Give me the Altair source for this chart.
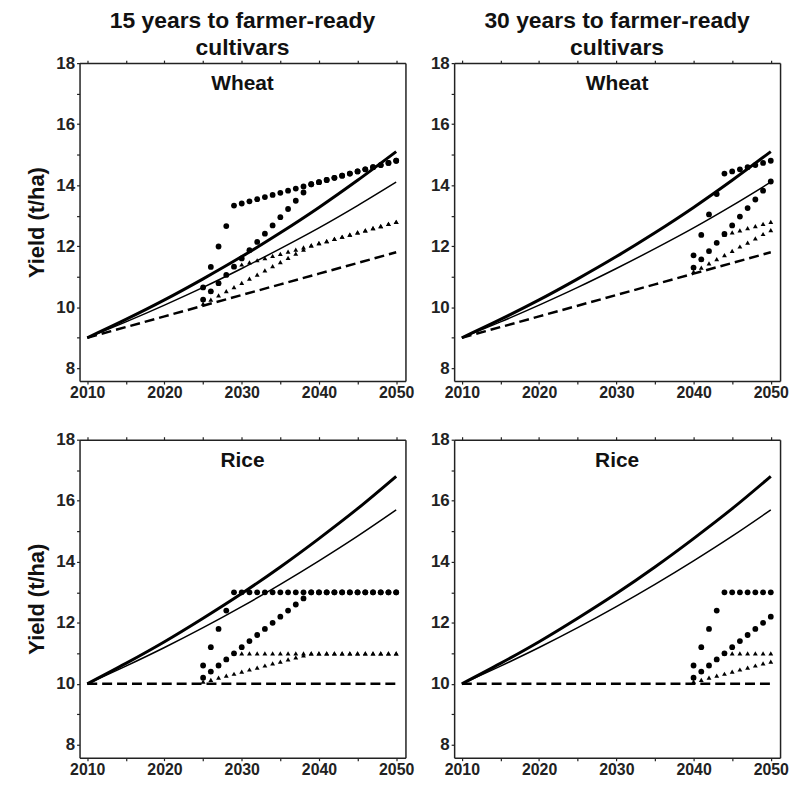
import altair as alt
import pandas as pd

FONT = "Liberation Sans"

COLUMN_TITLES = [["15 years to farmer-ready", "cultivars"], ["30 years to farmer-ready", "cultivars"]]
CROPS = ["Wheat", "Rice"]
Y_TITLE = "Yield (t/ha)"

LINE_YEARS = [2010, 2015, 2020, 2025, 2030, 2035, 2040, 2045, 2050]
WHEAT_TREND_HIGH = [9.0, 9.6, 10.24, 10.93, 11.66, 12.44, 13.27, 14.16, 15.1]
WHEAT_TREND_LOW = [9.0, 9.52, 10.07, 10.65, 11.27, 11.92, 12.60, 13.33, 14.1]
WHEAT_BASELINE = [9.0, 9.35, 9.7, 10.05, 10.4, 10.75, 11.1, 11.45, 11.8]
RICE_TREND_HIGH = [10.0, 10.67, 11.38, 12.15, 12.96, 13.83, 14.76, 15.74, 16.8]
RICE_TREND_LOW = [10.0, 10.58, 11.19, 11.84, 12.53, 13.26, 14.03, 14.84, 15.7]
RICE_BASELINE = [10.0, 10.0, 10.0, 10.0, 10.0, 10.0, 10.0, 10.0, 10.0]

YEARS_15 = [2025, 2026, 2027, 2028, 2029, 2030, 2031, 2032, 2033, 2034, 2035, 2036, 2037,
            2038, 2039, 2040, 2041, 2042, 2043, 2044, 2045, 2046, 2047, 2048, 2049, 2050]
YEARS_30 = [2040, 2041, 2042, 2043, 2044, 2045, 2046, 2047, 2048, 2049, 2050]

# Wheat, 15 years
W15_DOT_FAST = [10.65, 11.32, 11.99, 12.66, 13.33, 13.40, 13.47, 13.54, 13.61, 13.68, 13.75, 13.82, 13.89,
                13.96, 14.03, 14.10, 14.17, 14.24, 14.31, 14.38, 14.45, 14.52, 14.59, 14.66, 14.73, 14.80]
W15_DOT_SLOW = [10.25, 10.52, 10.79, 11.06, 11.33, 11.60, 11.87, 12.14, 12.41, 12.68, 12.95, 13.22, 13.49,
                13.76, 14.03, 14.10, 14.17, 14.24, 14.31, 14.38, 14.45, 14.52, 14.59, 14.66, 14.73, 14.80]
W15_TRI_FAST = [10.25, 10.52, 10.79, 11.06, 11.33, 11.40, 11.47, 11.54, 11.61, 11.68, 11.75, 11.82, 11.89,
                11.96, 12.03, 12.10, 12.17, 12.24, 12.31, 12.38, 12.45, 12.52, 12.59, 12.66, 12.73, 12.80]
W15_TRI_SLOW = [10.12, 10.25, 10.39, 10.53, 10.66, 10.80, 10.94, 11.07, 11.21, 11.35, 11.48, 11.62, 11.76,
                11.89, 12.03, 12.10, 12.17, 12.24, 12.31, 12.38, 12.45, 12.52, 12.59, 12.66, 12.73, 12.80]

# Wheat, 30 years
W30_DOT_FAST = [11.70, 12.37, 13.04, 13.71, 14.38, 14.45, 14.52, 14.59, 14.66, 14.73, 14.80]
W30_DOT_SLOW = [11.30, 11.57, 11.84, 12.11, 12.40, 12.68, 12.97, 13.25, 13.53, 13.82, 14.12]
W30_TRI_FAST = [11.30, 11.57, 11.84, 12.11, 12.38, 12.45, 12.52, 12.59, 12.66, 12.73, 12.80]
W30_TRI_SLOW = [11.17, 11.30, 11.44, 11.58, 11.71, 11.85, 11.99, 12.12, 12.26, 12.40, 12.53]

# Rice, 15 years
R15_DOT_FAST = [10.6, 11.2, 11.8, 12.4, 13.0, 13.0, 13.0, 13.0, 13.0, 13.0, 13.0, 13.0, 13.0,
                13.0, 13.0, 13.0, 13.0, 13.0, 13.0, 13.0, 13.0, 13.0, 13.0, 13.0, 13.0, 13.0]
R15_DOT_SLOW = [10.2, 10.4, 10.6, 10.8, 11.0, 11.2, 11.4, 11.6, 11.8, 12.0, 12.2, 12.4, 12.6,
                12.8, 13.0, 13.0, 13.0, 13.0, 13.0, 13.0, 13.0, 13.0, 13.0, 13.0, 13.0, 13.0]
R15_TRI_FAST = [10.2, 10.4, 10.6, 10.8, 11.0, 11.0, 11.0, 11.0, 11.0, 11.0, 11.0, 11.0, 11.0,
                11.0, 11.0, 11.0, 11.0, 11.0, 11.0, 11.0, 11.0, 11.0, 11.0, 11.0, 11.0, 11.0]
R15_TRI_SLOW = [10.07, 10.13, 10.2, 10.27, 10.33, 10.4, 10.47, 10.53, 10.6, 10.67, 10.73, 10.8, 10.87,
                10.93, 11.0, 11.0, 11.0, 11.0, 11.0, 11.0, 11.0, 11.0, 11.0, 11.0, 11.0, 11.0]

# Rice, 30 years
R30_DOT_FAST = [10.6, 11.2, 11.8, 12.4, 13.0, 13.0, 13.0, 13.0, 13.0, 13.0, 13.0]
R30_DOT_SLOW = [10.2, 10.4, 10.6, 10.8, 11.0, 11.2, 11.4, 11.6, 11.8, 12.0, 12.2]
R30_TRI_FAST = [10.2, 10.4, 10.6, 10.8, 11.0, 11.0, 11.0, 11.0, 11.0, 11.0, 11.0]
R30_TRI_SLOW = [10.07, 10.13, 10.2, 10.27, 10.33, 10.4, 10.47, 10.53, 10.6, 10.67, 10.73]

X_TICKS = [2010, 2015, 2020, 2025, 2030, 2035, 2040, 2045, 2050]
Y_TICKS = [8, 9, 10, 11, 12, 13, 14, 15, 16, 17, 18]

W_LEFT = 328
W_RIGHT = 328
H = 320

xscale = alt.Scale(domain=[2009, 2051.2], nice=False, zero=False)
yscale = alt.Scale(domain=[7.58, 18], nice=False, zero=False)


def make_panel(crop, high, low, base, years, dot_fast, dot_slow, tri_fast, tri_slow, width, show_ytitle, title=None):
    lines_high = pd.DataFrame({"year": LINE_YEARS, "value": high})
    lines_low = pd.DataFrame({"year": LINE_YEARS, "value": low})
    lines_base = pd.DataFrame({"year": LINE_YEARS, "value": base})
    dots = pd.DataFrame({"year": years + years, "value": dot_fast + dot_slow,
                         "series": ["fast"] * len(years) + ["slow"] * len(years)})
    tris = pd.DataFrame({"year": years + years, "value": tri_fast + tri_slow,
                         "series": ["fast"] * len(years) + ["slow"] * len(years)})

    x_bottom = alt.Axis(orient="bottom", values=X_TICKS, format="d",
                        labelExpr="datum.value % 10 == 0 ? datum.label : ''",
                        tickSize=3, labelPadding=1, labelFontSize=16, title=None, grid=False, minExtent=0)
    y_left = alt.Axis(orient="left", values=Y_TICKS,
                      labelExpr="datum.value % 2 == 0 ? datum.label : ''",
                      tickSize=3, labelPadding=2, grid=False, minExtent=0,
                      title=Y_TITLE if show_ytitle else None, titlePadding=7)
    x_top = alt.Axis(orient="top", values=X_TICKS, labels=False, tickSize=3, title=None, grid=False, minExtent=0)
    y_right = alt.Axis(orient="right", values=Y_TICKS, labels=False, ticks=False, title=None, grid=False,
                       minExtent=0)

    thick = alt.Chart(lines_high).mark_line(color="black", strokeWidth=3, interpolate="monotone").encode(
        x=alt.X("year:Q", scale=xscale, axis=x_bottom),
        y=alt.Y("value:Q", scale=yscale, axis=y_left),
    )
    frame = alt.Chart(lines_high).mark_point(opacity=0).encode(
        x=alt.X("year:Q", scale=xscale, axis=x_top),
        y=alt.Y("value:Q", scale=yscale, axis=y_right),
    )
    thin = alt.Chart(lines_low).mark_line(color="black", strokeWidth=1.5, interpolate="monotone").encode(
        x=alt.X("year:Q", scale=xscale, axis=None),
        y=alt.Y("value:Q", scale=yscale, axis=None),
    )
    dashed = alt.Chart(lines_base).mark_line(color="black", strokeWidth=2.5, strokeDash=[10, 5]).encode(
        x=alt.X("year:Q", scale=xscale, axis=None),
        y=alt.Y("value:Q", scale=yscale, axis=None),
    )
    dot_layer = alt.Chart(dots).mark_point(shape="circle", filled=True, size=34, color="black", opacity=1).encode(
        x=alt.X("year:Q", scale=xscale, axis=None),
        y=alt.Y("value:Q", scale=yscale, axis=None),
        detail="series:N",
    )
    tri_layer = alt.Chart(tris).mark_point(shape="triangle-up", filled=True, size=24, color="black", opacity=1).encode(
        x=alt.X("year:Q", scale=xscale, axis=None),
        y=alt.Y("value:Q", scale=yscale, axis=None),
        detail="series:N",
    )
    label = alt.Chart(pd.DataFrame({"crop": [crop]})).mark_text(
        fontSize=21, fontWeight="bold", font=FONT, color="#111", baseline="middle", align="center"
    ).encode(text="crop:N", x=alt.value(width / 2), y=alt.value(21))

    layered = alt.layer(frame, thick, thin, dashed, tri_layer, dot_layer, label).resolve_axis(
        x="independent", y="independent"
    ).properties(width=width, height=H)
    if title is not None:
        layered = layered.properties(title=alt.Title(title, fontSize=23, fontWeight="bold", font=FONT,
                                                     color="#111", anchor="middle", frame="group",
                                                     lineHeight=27, offset=-6))
    return layered


tl = make_panel(CROPS[0], WHEAT_TREND_HIGH, WHEAT_TREND_LOW, WHEAT_BASELINE, YEARS_15,
                W15_DOT_FAST, W15_DOT_SLOW, W15_TRI_FAST, W15_TRI_SLOW, W_LEFT, True, COLUMN_TITLES[0])
tr = make_panel(CROPS[0], WHEAT_TREND_HIGH, WHEAT_TREND_LOW, WHEAT_BASELINE, YEARS_30,
                W30_DOT_FAST, W30_DOT_SLOW, W30_TRI_FAST, W30_TRI_SLOW, W_RIGHT, False, COLUMN_TITLES[1])
bl = make_panel(CROPS[1], RICE_TREND_HIGH, RICE_TREND_LOW, RICE_BASELINE, YEARS_15,
                R15_DOT_FAST, R15_DOT_SLOW, R15_TRI_FAST, R15_TRI_SLOW, W_LEFT, True)
br = make_panel(CROPS[1], RICE_TREND_HIGH, RICE_TREND_LOW, RICE_BASELINE, YEARS_30,
                R30_DOT_FAST, R30_DOT_SLOW, R30_TRI_FAST, R30_TRI_SLOW, W_RIGHT, False)

chart = alt.vconcat(
    alt.hconcat(tl, tr, spacing=16),
    alt.hconcat(bl, br, spacing=16),
    spacing=30,
).properties(
    padding={"left": 18, "top": 0, "right": 0, "bottom": 0},
    background="white",
).configure_view(stroke=None).configure_axis(
    labelFont=FONT, labelFontSize=17, labelFontWeight="bold", labelColor="#222",
    titleFont=FONT, titleFontSize=22, titleFontWeight="bold", titleColor="#111",
    domainColor="#222", tickColor="#222", domainWidth=1.5, tickWidth=1.2,
)

chart.save("out.html", embed_options={"renderer": "svg", "actions": False})
